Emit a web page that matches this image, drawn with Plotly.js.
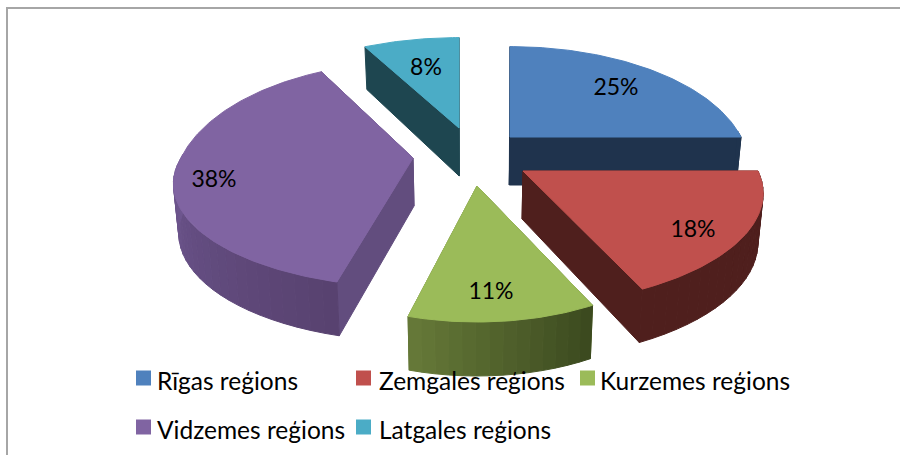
<!DOCTYPE html>
<html><head><meta charset="utf-8">
<script src="https://cdn.plot.ly/plotly-3.0.1.min.js"></script>
<style>html,body{margin:0;padding:0;background:#fff}#c{width:900px;height:455px}</style>
</head><body><div id="c"></div>
<script>
const regions = ["Rīgas reģions","Zemgales reģions","Kurzemes reģions","Vidzemes reģions","Latgales reģions"];
const shares = [25,18,11,38,8];
const topColors = ["#4F81BD","#C0504D","#9BBB59","#8064A2","#4BACC6"];
const sideStart = [[31,51,77],[79,31,29],[60,74,31],[88,66,112],[30,70,80]];
const sideEnd   = [[31,51,77],[79,31,29],[104,124,58],[112,88,146],[30,70,80]];
const cutColors = ["#1F334D","#4F1F1D","#667A38","#624D7E","#1E4650"];
const apexX = [510,523,477,413,459];
const apexY = [137,171,186,158,128];
const radiusX = [231,235,210,232,238];
const radiusYFront = [102,101,102,97,102];
const radiusYBack = [113,113,113,120,113];
const frontShear = [0,-11,0,0,0];
const labelX = [616,693,491,214,426];
const labelY = [89,231,293,181,69];
const swatchX = [136,356,580,136,356];
const swatchY = [378,378,378,427,427];
const legendTextX = [157,379,600,157,379];
const drawOrder = [4,0,3,1,2];

const K=0.25, VIEW_X=470, DEPTH_SHIFT=0.018;
function rim(i,deg){
  const t=deg*Math.PI/180, X=Math.sin(t), Y=Math.cos(t), s=1/(1+K*Y);
  return [apexX[i]+radiusX[i]*X*s+(Y<0?-Y*frontShear[i]:0), apexY[i]-(Y>0?radiusYBack[i]:radiusYFront[i])*Y*s, Y];
}
const depth = Y => 48-6*Y;
const low = x => x+(VIEW_X-x)*DEPTH_SHIFT;
function poly(xs,ys,color){
  return {type:"scatter",mode:"lines",x:xs.concat(xs[0]),y:ys.concat(ys[0]),fill:"toself",fillcolor:color,
    line:{width:1,color:color},hoverinfo:"skip",showlegend:false};
}
const mix=(a,b,f)=>"rgb("+a.map((v,j)=>Math.round(v+(b[j]-v)*f)).join(",")+")";

const starts=[];let acc=0;shares.forEach(v=>{starts.push(acc*3.6);acc+=v;});
const traces=[];
drawOrder.forEach(i=>{
  const a0=starts[i], a1=starts[i]+shares[i]*3.6;
  [a0,a1].forEach(a=>{
    const p=rim(i,a), d=depth(p[2]);
    traces.push(poly([apexX[i],p[0],low(p[0]),low(apexX[i])],[apexY[i],p[1],p[1]+d,apexY[i]+48],cutColors[i]));
  });
  const n=Math.max(2,Math.ceil((a1-a0)/3));
  const visEnd=Math.min(a1,Math.max(a0,270));
  for(let k=0;k<n;k++){
    const u=a0+(a1-a0)*k/n, v=a0+(a1-a0)*(k+1)/n;
    const p=rim(i,u), q=rim(i,v);
    if(p[2]>0.02&&q[2]>0.02) continue;
    const f=Math.min(1,(u-a0)/Math.max(1,(visEnd-a0)));
    traces.push(poly([p[0],q[0],low(q[0]),low(p[0])],[p[1],q[1],q[1]+depth(q[2]),p[1]+depth(p[2])],
      mix(sideStart[i],sideEnd[i],f)));
  }
  const xs=[apexX[i]],ys=[apexY[i]],m=Math.ceil(a1-a0);
  for(let k=0;k<=m;k++){const p=rim(i,a0+(a1-a0)*k/m);xs.push(p[0]);ys.push(p[1]);}
  traces.push(poly(xs,ys,topColors[i]));
});
traces.push({type:"scatter",mode:"text",x:labelX,y:labelY,text:shares.map(v=>v+"%"),
  textposition:"middle center",textfont:{family:"Lato, sans-serif",size:23,color:"#000"},hoverinfo:"skip",showlegend:false});
traces.push({type:"scatter",mode:"markers",x:swatchX.map(v=>v+7.5),y:swatchY,
  marker:{symbol:"square",size:15,color:topColors,line:{width:0}},hoverinfo:"skip",showlegend:false});
traces.push({type:"scatter",mode:"text",x:legendTextX,y:swatchY.map(v=>v+6),text:regions,
  textposition:"middle right",textfont:{family:"Lato, sans-serif",size:24.5,color:"#000"},hoverinfo:"skip",showlegend:false});

Plotly.newPlot("c",traces,{
  width:900,height:455,margin:{l:0,r:0,t:0,b:0},paper_bgcolor:"#fff",plot_bgcolor:"#fff",showlegend:false,
  xaxis:{range:[0,900],visible:false,fixedrange:true},
  yaxis:{range:[455,0],visible:false,fixedrange:true},
  shapes:[{type:"rect",xref:"x",yref:"y",x0:7,y0:8,x1:960,y1:520,line:{color:"#A6A6A6",width:2}}]
},{displayModeBar:false,staticPlot:true});
</script></body></html>
